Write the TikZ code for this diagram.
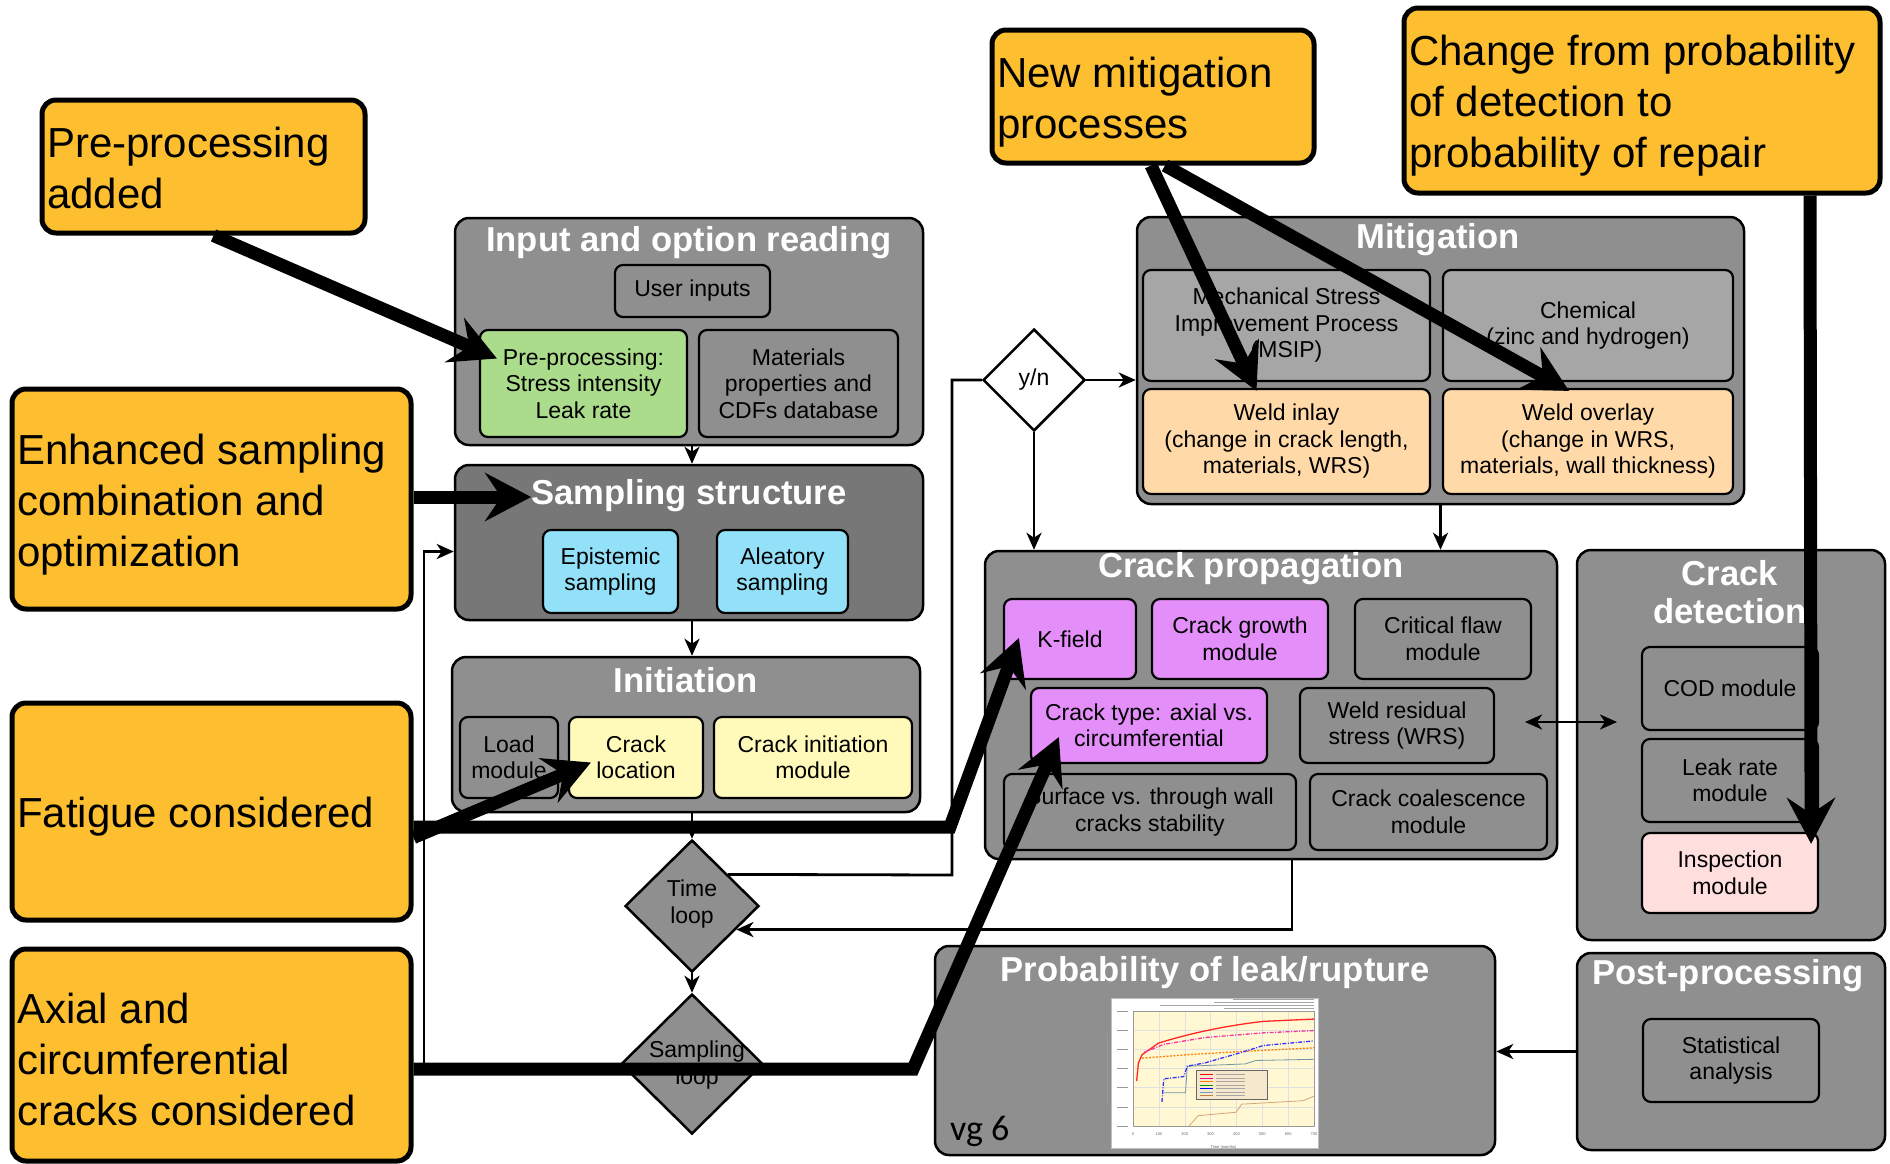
\documentclass[tikz,border=0pt]{standalone}
\usepackage{fontspec}
\setmainfont{Liberation Sans}
\newfontfamily\slidefont{Carlito}
\usetikzlibrary{arrows.meta,shapes.geometric,calc}

\definecolor{panelgray}{HTML}{8F8F8F}
\definecolor{darkpanel}{HTML}{777777}
\definecolor{lightmod}{HTML}{A6A6A6}
\definecolor{calloutorange}{HTML}{FDBF2F}
\definecolor{greenmod}{HTML}{ABDC8B}
\definecolor{cyanmod}{HTML}{92E1F9}
\definecolor{yellowmod}{HTML}{FFFAB9}
\definecolor{peachmod}{HTML}{FFDAA8}
\definecolor{violetmod}{HTML}{E48EF9}
\definecolor{pinkmod}{HTML}{FFDEDE}
\definecolor{chartbg}{HTML}{FFF8D2}
\definecolor{legendbg}{HTML}{F6E8CC}

\newcommand\calloutfont{\fontsize{42}{51}\selectfont}
\newcommand\modulefont{\fontsize{23}{26.5}\selectfont}
\newcommand\panelfont{\bfseries\fontsize{34.6}{38}\selectfont}
\newcommand\chartfont{\fontsize{4}{5}\selectfont}

\tikzset{
  cornerbox/.style n args={4}{at={({(#1+#3)/2},{(#2+#4)/2})},
    minimum width={(#3-#1)*1pt}, minimum height={(#4-#2)*1pt}},
  panel/.style={draw=black, line width=2.5pt, rounded corners=14pt, fill=panelgray, inner sep=0pt},
  module/.style={draw=black, line width=2.2pt, rounded corners=8pt, fill=panelgray,
    align=center, font=\modulefont, inner sep=0pt},
  paneltitle/.style={text=white, font=\panelfont, align=center, inner sep=0pt},
  calloutbox/.style={draw=black, line width=5pt, rounded corners=14pt, fill=calloutorange, inner sep=0pt},
  callouttext/.style={align=left, font=\calloutfont, inner sep=0pt, anchor=west},
  loopdiamond/.style={diamond, draw=black, line width=2.5pt, fill=panelgray, inner sep=0pt, aspect=1},
  decision/.style={diamond, draw=black, line width=2.5pt, fill=white, inner sep=0pt, aspect=1},
  looplabel/.style={align=center, font=\modulefont, inner sep=0pt},
  flow/.style={line width=2.8pt, -{Stealth[length=17pt,width=15pt,inset=5pt]}},
  flowboth/.style={line width=2.8pt, {Stealth[length=17pt,width=15pt,inset=5pt]}-{Stealth[length=17pt,width=15pt,inset=5pt]}},
  flowline/.style={line width=2.8pt},
  note/.style={line width=13pt, -{Stealth[length=46pt,width=48pt,inset=16pt]}},
  chartgrid/.style={draw=black!12, line width=0.4pt},
  curve/.style={line width=1.3pt},
}

\begin{document}
\begin{tikzpicture}[x=1pt,y=-1pt]
\useasboundingbox (0,0) rectangle (1890,1163);
\fill[white] (0,0) rectangle (1890,1163);

% ---------- panels ----------
\node[panel, cornerbox={455}{218}{923}{445}] (inp) {};
\node[panel, fill=darkpanel, cornerbox={455}{465}{923}{620}] (samp) {};
\node[panel, cornerbox={452}{657}{920}{812}] (init) {};
\node[panel, cornerbox={1137}{217}{1744}{504}] (mit) {};
\node[panel, cornerbox={985}{551}{1557}{859}] (cp) {};
\node[panel, cornerbox={1577}{550}{1885}{940}] (cd) {};
\node[panel, cornerbox={935}{946}{1495}{1155}] (prob) {};
\node[panel, cornerbox={1577}{953}{1885}{1150}] (pp) {};

\node[paneltitle, anchor=base] (inp-t) at (689,251) {Input and option reading};
\node[paneltitle, anchor=base] (samp-t) at (689,504) {Sampling structure};
\node[paneltitle, anchor=base] (init-t) at (686,692) {Initiation};
\node[paneltitle, anchor=base] (mit-t) at (1438,248) {Mitigation};
\node[paneltitle, anchor=base] (cp-t) at (1251,577) {Crack propagation};
\node[paneltitle, font=\bfseries\fontsize{34.6}{38}\selectfont] (cd-t) at (1730,592) {Crack\\detection};
\node[paneltitle, anchor=base] (pp-t) at (1728,984) {Post-processing};
\node[paneltitle, anchor=base] (prob-t) at (1215,981) {Probability of leak/rupture};

% ---------- modules ----------
\node[module, cornerbox={615}{265}{770}{317}] (user) {User inputs};
\node[module, fill=greenmod, cornerbox={480}{330}{687}{437}] (pre) {Pre-processing:\\Stress intensity\\Leak rate};
\node[module, cornerbox={699}{330}{898}{437}] (mat) {Materials\\properties and\\CDFs database};
\node[module, fill=cyanmod, cornerbox={543}{530}{678}{613}] (epi) {Epistemic\\sampling};
\node[module, fill=cyanmod, cornerbox={717}{530}{848}{613}] (ale) {Aleatory\\sampling};
\node[module, cornerbox={460}{717}{558}{798}] (load) {Load\\module};
\node[module, fill=yellowmod, cornerbox={569}{717}{703}{798}] (cloc) {Crack\\location};
\node[module, fill=yellowmod, cornerbox={714}{717}{912}{798}] (cini) {Crack initiation\\module};
\node[module, fill=lightmod, cornerbox={1143}{270}{1430}{381}] (msip) {Mechanical Stress\\Improvement Process\\(MSIP)};
\node[module, fill=lightmod, cornerbox={1443}{270}{1733}{381}] (chem) {Chemical\\(zinc and hydrogen)};
\node[module, fill=peachmod, cornerbox={1143}{389}{1430}{494}] (inlay) {Weld inlay\\(change in crack length,\\materials, WRS)};
\node[module, fill=peachmod, cornerbox={1443}{389}{1733}{494}] (overlay) {Weld overlay\\(change in WRS,\\materials, wall thickness)};
\node[module, fill=violetmod, cornerbox={1004}{599}{1136}{679}] (kf) {K-field};
\node[module, fill=violetmod, cornerbox={1152}{599}{1328}{679}] (cg) {Crack growth\\module};
\node[module, cornerbox={1355}{599}{1531}{679}] (cf) {Critical flaw\\module};
\node[module, fill=violetmod, cornerbox={1031}{688}{1267}{763}] (ct) {Crack type: axial vs.\\circumferential};
\node[module, cornerbox={1300}{688}{1494}{763}] (wrs) {Weld residual\\stress (WRS)};
\node[module, cornerbox={1004}{774}{1296}{850}] (surf) {Surface vs. through wall\\cracks stability};
\node[module, cornerbox={1310}{774}{1547}{850}] (coal) {Crack coalescence\\module};
\node[module, cornerbox={1642}{647}{1818}{730}] (cod) {COD module};
\node[module, cornerbox={1642}{739}{1818}{822}] (leak) {Leak rate\\module};
\node[module, fill=pinkmod, cornerbox={1642}{833}{1818}{913}] (insp) {Inspection\\module};
\node[module, cornerbox={1643}{1019}{1819}{1102}] (stat) {Statistical\\analysis};

% ---------- loop and decision diamonds ----------
\node[loopdiamond, minimum width=134pt, minimum height=132pt] (tl) at (692,906) {};
\node[looplabel] (tl-l) at (692,904) {Time\\loop};
\node[loopdiamond, minimum width=142pt, minimum height=140pt] (sl) at (692,1064) {};
\node[looplabel] (sl-l) at (697,1065) {Sampling\\loop};
\node[decision, minimum width=102pt, minimum height=102pt] (yn) at (1034,380) {};
\node[looplabel] (yn-l) at (1034,380) {y/n};

% ---------- small result chart ----------
\node[draw=black!25, fill=white, line width=0.6pt, inner sep=0pt,
      minimum width=207pt, minimum height=150pt] (chart) at (1214.5,1073) {};
\begin{scope}[shift={(1133,1011)}, x=181pt, y=-115pt]
  \fill[chartbg] (0,0) rectangle (1,1);
  \foreach \k in {1,...,6} \draw[chartgrid] (\k/7,0) -- (\k/7,1);
  \foreach \k in {1,...,5} \draw[chartgrid] (0,\k/6) -- (1,\k/6);
  \draw[black!40, line width=0.4pt] (0,0) rectangle (1,1);
  % header lines
  \foreach \v/\a in {-0.10/0.55,-0.075/0.45,-0.05/0.15,-0.025/0.50}
    \draw[black!35, line width=0.8pt] (\a,\v) -- (1,\v);
  % axis ticks
  \foreach \k in {0,...,7}
    \node[font=\chartfont, text=black!60, inner sep=0pt] (xt\k) at (\k/7,1.07) {\the\numexpr\k*100\relax};
  \node[font=\chartfont, text=black!60, inner sep=0pt] (xlab) at (0.5,1.19) {Time (months)};
  \foreach \k in {0,...,6}
    \draw[black!40, line width=0.7pt] (-0.09,\k/6) -- (-0.03,\k/6);
  \draw[black!40, line width=0.7pt] (-0.14,0.2) -- (-0.14,0.8);
  % curves
  \draw[curve, red!85!white] (0.02,0.61) -- (0.03,0.45) -- (0.05,0.38) -- (0.14,0.28)
      .. controls (0.3,0.2) and (0.5,0.13) .. (0.72,0.09) -- (1,0.07);
  \draw[curve, magenta!80!white, dash pattern=on 4pt off 1.5pt on 1pt off 1.5pt]
      (0.06,0.36) -- (0.17,0.29) -- (0.40,0.23) -- (0.72,0.19) -- (1,0.17);
  \draw[curve, orange, dash pattern=on 2pt off 1.5pt] (0.05,0.41) -- (0.30,0.38) -- (0.62,0.35) -- (1,0.32);
  \draw[line width=0.8pt, black!25!cyan!40!gray] (0.17,0.71) -- (0.29,0.71) -- (0.30,0.48) -- (0.62,0.46) -- (0.68,0.43) -- (1,0.42);
  \draw[curve, blue!80!white, dash pattern=on 4pt off 1.5pt on 1pt off 1.5pt]
      (0.16,0.79) -- (0.17,0.59) -- (0.28,0.57) -- (0.30,0.48) -- (0.40,0.45) -- (0.60,0.36) -- (0.72,0.30) -- (1,0.26);
  \draw[line width=0.8pt, brown!70!white] (0.31,1.0) -- (0.36,0.91) -- (0.57,0.88) -- (0.60,0.81) -- (0.94,0.78) -- (1,0.74);
  % legend
  \filldraw[fill=legendbg, draw=black!60, line width=0.7pt] (0.35,0.52) rectangle (0.74,0.77);
  \foreach \c/\i in {red/1,magenta/2,orange/3,green!60!black/4,blue/5,cyan!40!gray/6,brown/7}{
    \draw[\c, line width=0.8pt] (0.37,{0.52+\i*0.031}) -- (0.44,{0.52+\i*0.031});
    \draw[black!35, line width=0.6pt] (0.46,{0.52+\i*0.031}) -- (0.62,{0.52+\i*0.031});
  }
\end{scope}
\node[font=\slidefont\fontsize{36}{40}\selectfont, anchor=west, inner sep=0pt] (vg) at (950,1131) {vg 6};

% ---------- flow connectors ----------
\draw[flow] (inp.south -| tl.north) -- (samp.north -| tl.north);
\draw[flow] (samp.south -| tl.north) -- (init.north -| tl.north);
\draw[flow] (init.south -| tl.north) -- (tl.north);
\draw[flow] (tl.south) -- (sl.north);

\coordinate (tl-exit) at ($(tl.north)!0.53!(tl.east)$);
\coordinate (yn-feed) at (952,875);
\draw[flowline] (tl-exit) -- (yn-feed) |- (yn.west);
\draw[flow] (yn.east) -- (yn.east -| mit.west);
\draw[flow] (yn.south) -- (yn.south |- cp.north);
\draw[flow] (mit.south) -- (mit.south |- cp.north);

\coordinate (cp-out) at ($(cp.south)+(21,0)$);
\coordinate (tl-in) at ($(tl.east)!0.35!(tl.south)$);
\draw[flow] (cp-out) |- (tl-in);

\coordinate (wrs-end) at (1525,722);
\coordinate (cd-end) at (1617,722);
\draw[flowboth] (wrs-end) -- (cd-end);

\draw[flow] (pp.west) -- (pp.west -| prob.east);

\coordinate (fb-corner) at (424,1064);
\coordinate (samp-in) at ($(samp.west)+(0,9)$);
\draw[flow] (sl.west) -- (fb-corner) |- (samp-in);

% ---------- callouts ----------
\node[calloutbox, cornerbox={42}{100}{365}{233}] (c1) {};
\node[callouttext] (c1-t) at (47,167.5) {Pre-processing\\added};
\node[calloutbox, cornerbox={12}{389}{411}{609}] (c2) {};
\node[callouttext] (c2-t) at (17,505) {Enhanced sampling\\combination and\\optimization};
\node[calloutbox, cornerbox={12}{703}{411}{920}] (c3) {};
\node[callouttext] (c3-t) at (17,816.5) {Fatigue considered};
\node[calloutbox, cornerbox={12}{949}{411}{1161}] (c4) {};
\node[callouttext] (c4-t) at (17,1059) {Axial and\\circumferential\\cracks considered};
\node[calloutbox, cornerbox={992}{30}{1314}{163}] (c5) {};
\node[callouttext] (c5-t) at (997,102.5) {New mitigation\\processes};
\node[calloutbox, cornerbox={1404}{8}{1880}{193}] (c6) {};
\node[callouttext] (c6-t) at (1409,106) {Change from probability\\of detection to\\probability of repair};

% ---------- callout pointers ----------
\draw[note] ($(c1.south)+(10,0)$) -- ($(pre.west)+(18,-25)$);
\draw[note] ($(c2.east)+(0,-2)$) -- ($(c2.east -| samp-t.west)+(0,-2)$);
\draw[note] ($(c3.east)+(0,26)$) -- ($(cloc.west)+(23,5)$);
\coordinate (fat-bend) at (950,827);
\draw[note] ($(c3.east)+(0,15.5)$) -- (fat-bend) -- ($(kf.west)+(16,-1)$);
\coordinate (axial-bend) at (913,1069);
\draw[note] ($(c4.east)+(0,14)$) -- (axial-bend) -- ($(ct.west)+(29,11.5)$);
\draw[note] ($(c5.south)+(-2,0)$) -- ($(inlay.north)+(-30,3)$);
\draw[note] ($(c5.south)+(12,0)$) -- ($(overlay.north)+(-19,3)$);
\draw[note] ($(c6.south)+(168,0)$) -- ($(insp.north east)+(-8,12)$);
\end{tikzpicture}
\end{document}
